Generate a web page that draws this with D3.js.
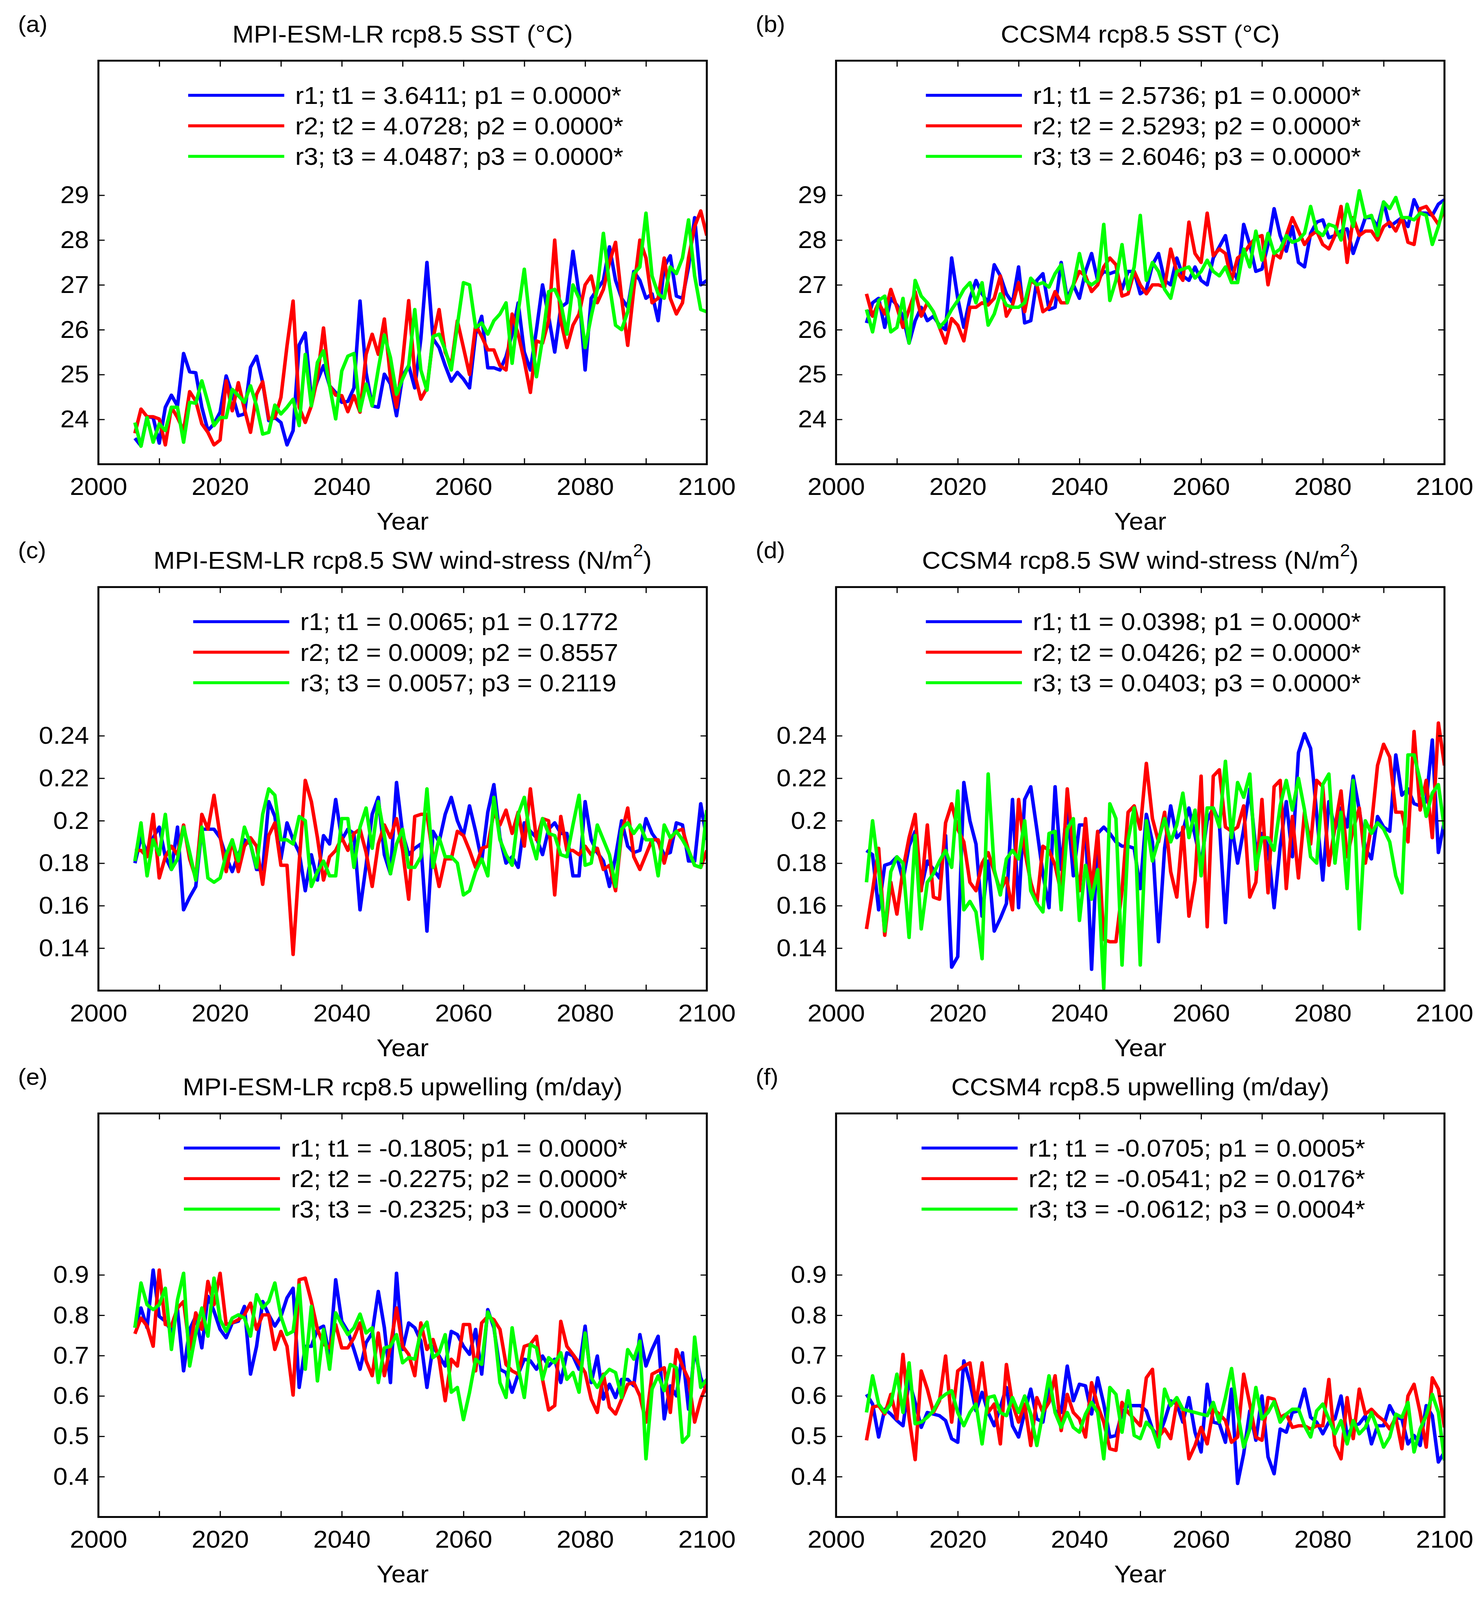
<!DOCTYPE html>
<html>
<head>
<meta charset="utf-8">
<script src="https://cdn.jsdelivr.net/npm/d3@7"></script>
<style>
  html, body { margin: 0; padding: 0; width: 100%; height: 100%; overflow: hidden; background: #fff; }
  svg { display: block; width: 100vw; height: 100vh; font-family: "Liberation Sans", Arial, Helvetica, sans-serif; }
</style>
</head>
<body>
<svg id="chart" viewBox="0 0 3790 4298" preserveAspectRatio="none"></svg>
<script>
// ---- time axes (annual values) ----
const mpiStart = 2006;
const ccsmStart = 2005;
const lastYear = 2100;
const xTickValues = [2000, 2010, 2020, 2030, 2040, 2050, 2060, 2070, 2080, 2090, 2100];
const xTickLabels = [2000, 2020, 2040, 2060, 2080, 2100];

// ---- y ticks ----
const sstTicks = [24, 25, 26, 27, 28, 29];
const tauTicks = [0.14, 0.16, 0.18, 0.2, 0.22, 0.24];
const upwTicks = [0.4, 0.5, 0.6, 0.7, 0.8, 0.9];

// ---- (a) MPI-ESM-LR SST, 2006-2100 ----
const mpiSstR1 = [
  23.58, 23.41, 24.06, 24.04, 23.47, 24.27, 24.54, 24.30, 25.47, 25.06,
  25.04, 24.27, 23.75, 23.90, 24.16, 24.97, 24.56, 24.08, 24.12, 25.16,
  25.41, 24.82, 23.97, 24.04, 23.93, 23.43, 23.75, 25.66, 25.93, 24.45,
  24.86, 25.20, 24.75, 24.60, 24.38, 24.40, 24.70, 26.64, 25.04, 24.30,
  24.27, 25.01, 24.79, 24.08, 24.97, 25.2, 24.7, 25.8, 27.5, 25.8,
  25.6, 25.2, 24.85, 25.05, 24.9, 24.7, 25.9, 26.3, 25.15, 25.15,
  25.1, 25.4, 25.9, 26.6, 25.5, 25.1, 26.0, 27.0, 26.3, 25.5,
  26.5, 26.6, 27.75, 26.8, 25.1, 26.7, 26.9, 27.1, 27.85, 27.1,
  26.7, 26.5, 27.3, 27.1, 26.7, 26.8, 26.2, 27.4, 27.65, 26.75,
  26.7, 27.4, 28.5, 27.0, 27.1
];
const mpiSstR2 = [
  23.69, 24.23, 24.06, 24.06, 24.01, 23.43, 24.27, 24.04, 23.75, 24.62,
  24.41, 23.90, 23.71, 23.43, 23.54, 24.86, 24.19, 24.82, 24.23, 23.71,
  24.56, 24.84, 24.01, 24.04, 24.49, 25.64, 26.64, 24.27, 23.93, 24.30,
  24.93, 26.04, 24.75, 24.54, 24.53, 24.17, 24.53, 24.16, 25.45, 25.90,
  25.45, 26.24, 24.93, 24.27, 25.3, 26.65, 25.0, 24.45, 24.7, 25.8,
  26.45, 25.5, 25.2, 26.2, 25.6, 25.0, 26.1, 25.85, 25.55, 25.55,
  25.2, 25.1, 26.35, 25.9, 25.3, 24.6, 25.75, 25.7, 26.2, 28.0,
  26.2, 25.6, 26.1, 26.35, 27.0, 27.2, 26.6, 26.9, 27.5, 27.95,
  26.7, 25.65, 26.9, 28.0, 27.6, 26.6, 26.7, 27.6, 26.7, 26.35,
  26.6, 27.6, 28.3, 28.65, 28.1
];
const mpiSstR3 = [
  23.93, 23.40, 24.04, 23.49, 23.90, 23.75, 24.27, 24.27, 23.49, 24.38,
  24.36, 24.86, 24.38, 23.86, 24.04, 24.04, 24.67, 24.53, 24.38, 24.75,
  24.30, 23.67, 23.71, 24.32, 24.12, 24.27, 24.45, 23.86, 25.45, 24.30,
  25.27, 25.53, 24.75, 24.01, 25.08, 25.41, 25.47, 24.19, 24.79, 24.30,
  25.12, 25.88, 25.38, 24.56, 24.9, 25.2, 26.45, 25.1, 24.65, 25.85,
  25.9, 25.55, 25.1, 26.1, 27.05, 27.0, 26.05, 26.15, 25.9, 26.2,
  26.35, 26.6, 25.25, 26.4, 27.35, 26.1, 24.95, 25.8, 26.85, 26.9,
  26.6, 25.9, 27.0, 26.7, 25.6, 26.3, 26.9, 28.15, 27.0, 26.1,
  26.0, 26.4, 27.25, 27.4, 28.6, 27.2, 26.8, 26.7, 27.4, 27.25,
  27.6, 28.45, 27.2, 26.45, 26.4
];

// ---- (b) CCSM4 SST, 2005-2100 ----
const ccsmSstR1 = [
  26.15,
  26.6, 26.7, 26.05, 26.7, 26.55, 26.3, 25.7, 26.2, 26.5, 26.2,
  26.3, 26.1, 26.0, 27.6, 26.7, 26.05, 26.7, 27.1, 26.8, 26.6,
  27.45, 27.2, 26.8, 26.6, 27.4, 26.15, 26.2, 27.1, 27.25, 26.45,
  26.5, 27.5, 26.7, 27.0, 26.7, 27.3, 27.7, 27.1, 27.3, 27.25,
  27.3, 26.9, 27.3, 27.3, 26.8, 26.9, 27.45, 27.7, 27.1, 27.0,
  27.6, 27.2, 27.1, 27.4, 27.1, 27.0, 27.6, 27.85, 28.1, 27.4,
  27.1, 28.35, 27.9, 27.3, 27.35, 27.9, 28.7, 28.1, 27.75, 28.3,
  27.5, 27.4, 28.15, 28.4, 28.45, 28.05, 28.1, 28.2, 28.25, 27.7,
  28.1, 28.5, 28.5, 28.3, 28.85, 28.3, 28.4, 28.5, 28.3, 28.9,
  28.6, 28.6, 28.55, 28.8, 28.9
];
const ccsmSstR2 = [
  26.8,
  26.3, 26.6, 26.35, 26.9, 26.5, 26.05, 26.45, 26.85, 26.3, 26.6,
  26.4, 26.05, 25.7, 26.25, 26.1, 25.75, 26.5, 26.5, 26.6, 26.55,
  26.7, 27.2, 26.3, 26.55, 27.05, 26.4, 27.1, 27.0, 26.4, 26.5,
  26.85, 26.6, 26.6, 27.0, 27.3, 27.2, 26.85, 27.0, 27.4, 27.6,
  27.45, 26.75, 26.8, 27.3, 27.0, 26.8, 27.0, 27.0, 26.95, 27.8,
  27.3, 27.1, 28.4, 27.7, 27.5, 28.6, 27.65, 27.8, 27.7, 27.1,
  27.6, 27.7, 27.9, 28.05, 28.1, 27.0, 27.7, 27.6, 28.1, 28.5,
  28.2, 27.9, 28.1, 28.2, 27.9, 27.8, 28.1, 28.75, 27.5, 28.5,
  28.1, 28.2, 28.2, 28.0, 28.3, 28.4, 28.2, 28.5, 27.95, 27.9,
  28.7, 28.75, 28.55, 28.35, 28.7
];
const ccsmSstR3 = [
  26.45,
  25.95, 26.65, 26.75, 25.95, 26.05, 26.7, 25.7, 27.1, 26.75, 26.6,
  26.4, 26.05, 26.2, 26.45, 26.65, 26.9, 27.05, 26.6, 27.05, 26.1,
  26.35, 26.8, 26.55, 26.5, 26.5, 26.6, 27.15, 27.0, 27.05, 26.95,
  27.25, 27.45, 26.6, 27.0, 27.7, 27.1, 27.0, 27.1, 28.35, 26.65,
  27.1, 27.9, 26.9, 27.4, 28.55, 27.1, 27.5, 27.3, 26.9, 26.7,
  27.3, 27.35, 27.4, 27.15, 27.3, 27.55, 27.3, 27.2, 27.4, 27.05,
  27.05, 27.8, 27.4, 28.2, 27.55, 28.15, 27.7, 27.8, 28.1, 27.95,
  28.0, 28.15, 28.75, 28.2, 28.1, 28.35, 28.3, 28.0, 28.8, 28.3,
  29.1, 28.5, 28.55, 28.1, 28.85, 28.7, 28.95, 28.5, 28.5, 28.45,
  28.6, 28.55, 27.9, 28.3, 28.85
];

// ---- (c) MPI-ESM-LR SW wind stress, 2006-2100 ----
const mpiTauR1 = [
  0.180, 0.192, 0.185, 0.192, 0.197, 0.183, 0.177, 0.197, 0.158, 0.164,
  0.169, 0.196, 0.196, 0.196, 0.192, 0.183, 0.176, 0.184, 0.191, 0.189,
  0.177, 0.177, 0.209, 0.202, 0.182, 0.199, 0.191, 0.185, 0.167, 0.184,
  0.172, 0.193, 0.189, 0.210, 0.191, 0.196, 0.194, 0.158, 0.179, 0.203,
  0.211, 0.184, 0.175, 0.218, 0.194, 0.184, 0.187, 0.189, 0.148, 0.195,
  0.190, 0.203, 0.211, 0.200, 0.193, 0.207, 0.195, 0.181, 0.204, 0.217,
  0.192, 0.180, 0.183, 0.178, 0.199, 0.195, 0.192, 0.184, 0.196, 0.199,
  0.194, 0.194, 0.174, 0.174, 0.209, 0.191, 0.185, 0.181, 0.169, 0.183,
  0.200, 0.188, 0.185, 0.186, 0.201, 0.194, 0.190, 0.184, 0.185, 0.199,
  0.198, 0.181, 0.181, 0.208, 0.191
];
const mpiTauR2 = [
  0.186, 0.186, 0.183, 0.203, 0.173, 0.183, 0.188, 0.184, 0.198, 0.182,
  0.173, 0.203, 0.196, 0.212, 0.193, 0.176, 0.191, 0.176, 0.188, 0.192,
  0.188, 0.170, 0.193, 0.199, 0.179, 0.179, 0.137, 0.180, 0.219, 0.209,
  0.192, 0.172, 0.183, 0.186, 0.192, 0.186, 0.194, 0.196, 0.185, 0.169,
  0.189, 0.198, 0.192, 0.201, 0.186, 0.163, 0.202, 0.203, 0.203, 0.183,
  0.169, 0.182, 0.182, 0.195, 0.193, 0.186, 0.178, 0.187, 0.188, 0.204,
  0.198, 0.205, 0.194, 0.204, 0.188, 0.215, 0.191, 0.201, 0.200, 0.165,
  0.202, 0.186, 0.186, 0.184, 0.188, 0.184, 0.187, 0.177, 0.179, 0.167,
  0.194, 0.206, 0.183, 0.177, 0.184, 0.191, 0.191, 0.180, 0.191, 0.195,
  0.196, 0.186, 0.179, 0.178, 0.186
];
const mpiTauR3 = [
  0.181, 0.199, 0.174, 0.191, 0.184, 0.203, 0.177, 0.182, 0.197, 0.185,
  0.172, 0.197, 0.173, 0.171, 0.173, 0.184, 0.191, 0.181, 0.197, 0.189,
  0.178, 0.203, 0.215, 0.212, 0.191, 0.191, 0.189, 0.202, 0.200, 0.169,
  0.176, 0.181, 0.174, 0.174, 0.201, 0.201, 0.178, 0.197, 0.206, 0.187,
  0.209, 0.193, 0.175, 0.189, 0.196, 0.178, 0.178, 0.183, 0.215, 0.178,
  0.192, 0.183, 0.183, 0.180, 0.165, 0.167, 0.176, 0.182, 0.174, 0.211,
  0.191, 0.184, 0.179, 0.203, 0.211, 0.192, 0.182, 0.201, 0.194, 0.193,
  0.184, 0.183, 0.198, 0.212, 0.179, 0.180, 0.198, 0.191, 0.184, 0.169,
  0.196, 0.199, 0.194, 0.198, 0.191, 0.191, 0.174, 0.198, 0.192, 0.195,
  0.191, 0.186, 0.179, 0.178, 0.205
];

// ---- (d) CCSM4 SW wind stress, 2005-2100 ----
const ccsmTauR1 = [
  0.186,
  0.184, 0.158, 0.179, 0.180, 0.183, 0.172, 0.188, 0.195, 0.168, 0.181,
  0.177, 0.173, 0.193, 0.131, 0.136, 0.218, 0.200, 0.189, 0.155, 0.181,
  0.148, 0.154, 0.161, 0.210, 0.159, 0.210, 0.216, 0.196, 0.175, 0.159,
  0.216, 0.177, 0.208, 0.174, 0.198, 0.198, 0.130, 0.194, 0.197, 0.194,
  0.190, 0.188, 0.188, 0.187, 0.168, 0.203, 0.190, 0.143, 0.187, 0.207,
  0.192, 0.195, 0.206, 0.193, 0.180, 0.200, 0.206, 0.199, 0.152, 0.198,
  0.180, 0.196, 0.215, 0.186, 0.194, 0.188, 0.159, 0.188, 0.209, 0.183,
  0.232, 0.241, 0.234, 0.203, 0.172, 0.209, 0.196, 0.206, 0.197, 0.221,
  0.205, 0.187, 0.182, 0.202, 0.197, 0.195, 0.231, 0.212, 0.215, 0.208,
  0.207, 0.209, 0.238, 0.185, 0.200
];
const ccsmTauR2 = [
  0.149,
  0.167, 0.187, 0.146, 0.171, 0.156, 0.177, 0.192, 0.203, 0.167, 0.198,
  0.164, 0.163, 0.199, 0.208, 0.196, 0.190, 0.171, 0.167, 0.180, 0.185,
  0.176, 0.167, 0.173, 0.158, 0.210, 0.186, 0.171, 0.161, 0.188, 0.186,
  0.179, 0.166, 0.215, 0.186, 0.167, 0.201, 0.167, 0.195, 0.144, 0.143,
  0.143, 0.167, 0.204, 0.207, 0.196, 0.227, 0.201, 0.190, 0.204, 0.176,
  0.164, 0.197, 0.155, 0.172, 0.221, 0.150, 0.221, 0.224, 0.197, 0.195,
  0.197, 0.207, 0.164, 0.171, 0.210, 0.166, 0.216, 0.219, 0.168, 0.202,
  0.173, 0.204, 0.189, 0.219, 0.216, 0.179, 0.197, 0.214, 0.183, 0.196,
  0.206, 0.180, 0.198, 0.226, 0.236, 0.230, 0.204, 0.204, 0.190, 0.242,
  0.205, 0.219, 0.192, 0.246, 0.226
];
const ccsmTauR3 = [
  0.171,
  0.200, 0.177, 0.148, 0.176, 0.183, 0.180, 0.145, 0.193, 0.149, 0.171,
  0.175, 0.181, 0.186, 0.178, 0.214, 0.158, 0.162, 0.157, 0.135, 0.222,
  0.177, 0.165, 0.182, 0.186, 0.182, 0.200, 0.167, 0.161, 0.157, 0.194,
  0.195, 0.158, 0.196, 0.201, 0.153, 0.179, 0.163, 0.177, 0.121, 0.208,
  0.201, 0.132, 0.191, 0.206, 0.132, 0.200, 0.181, 0.191, 0.201, 0.190,
  0.198, 0.213, 0.192, 0.205, 0.174, 0.206, 0.206, 0.197, 0.228, 0.192,
  0.218, 0.211, 0.222, 0.177, 0.192, 0.192, 0.186, 0.207, 0.219, 0.205,
  0.220, 0.205, 0.183, 0.180, 0.217, 0.222, 0.180, 0.204, 0.168, 0.219,
  0.149, 0.200, 0.194, 0.199, 0.196, 0.190, 0.174, 0.166, 0.231, 0.231,
  0.219, 0.202, 0.213, 0.217, 0.196
];

// ---- (e) MPI-ESM-LR upwelling, 2006-2100 ----
const mpiUpwR1 = [
  0.769, 0.818, 0.769, 0.912, 0.797, 0.785, 0.760, 0.814, 0.662, 0.765,
  0.797, 0.719, 0.847, 0.810, 0.765, 0.744, 0.781, 0.785, 0.822, 0.654,
  0.723, 0.834, 0.801, 0.773, 0.797, 0.843, 0.867, 0.621, 0.723, 0.723,
  0.765, 0.773, 0.699, 0.888, 0.785, 0.760, 0.715, 0.666, 0.732, 0.756,
  0.859, 0.769, 0.633, 0.904, 0.715, 0.781, 0.769, 0.736, 0.621, 0.723,
  0.699, 0.674, 0.760, 0.752, 0.723, 0.703, 0.765, 0.654, 0.814, 0.769,
  0.666, 0.658, 0.609, 0.654, 0.691, 0.687, 0.666, 0.699, 0.674, 0.691,
  0.633, 0.707, 0.699, 0.666, 0.773, 0.633, 0.699, 0.592, 0.629, 0.596,
  0.641, 0.641, 0.625, 0.752, 0.674, 0.715, 0.748, 0.543, 0.625, 0.600,
  0.707, 0.567, 0.715, 0.645, 0.609
];
const mpiUpwR2 = [
  0.754, 0.793, 0.773, 0.723, 0.912, 0.777, 0.773, 0.818, 0.834, 0.715,
  0.806, 0.765, 0.884, 0.826, 0.904, 0.777, 0.781, 0.789, 0.801, 0.830,
  0.765, 0.801, 0.801, 0.715, 0.760, 0.723, 0.602, 0.888, 0.892, 0.834,
  0.765, 0.728, 0.719, 0.777, 0.719, 0.719, 0.744, 0.781, 0.687, 0.650,
  0.756, 0.650, 0.723, 0.818, 0.723, 0.703, 0.650, 0.781, 0.715, 0.740,
  0.691, 0.588, 0.691, 0.674, 0.777, 0.777, 0.662, 0.781, 0.797, 0.789,
  0.765, 0.678, 0.662, 0.654, 0.723, 0.728, 0.748, 0.641, 0.565, 0.576,
  0.785, 0.723, 0.703, 0.682, 0.658, 0.592, 0.559, 0.654, 0.572, 0.555,
  0.592, 0.629, 0.633, 0.600, 0.535, 0.654, 0.662, 0.670, 0.559, 0.715,
  0.674, 0.641, 0.535, 0.592, 0.629
];
const mpiUpwR3 = [
  0.769, 0.880, 0.826, 0.814, 0.826, 0.867, 0.715, 0.838, 0.904, 0.674,
  0.756, 0.818, 0.748, 0.892, 0.789, 0.760, 0.793, 0.801, 0.793, 0.748,
  0.851, 0.818, 0.834, 0.880, 0.797, 0.752, 0.760, 0.875, 0.666, 0.822,
  0.637, 0.765, 0.666, 0.806, 0.777, 0.752, 0.769, 0.803, 0.756, 0.769,
  0.633, 0.719, 0.723, 0.752, 0.682, 0.695, 0.691, 0.760, 0.783, 0.695,
  0.707, 0.752, 0.609, 0.621, 0.541, 0.609, 0.691, 0.678, 0.808, 0.777,
  0.633, 0.596, 0.769, 0.670, 0.596, 0.728, 0.719, 0.641, 0.695, 0.682,
  0.707, 0.641, 0.658, 0.609, 0.756, 0.645, 0.621, 0.650, 0.666, 0.658,
  0.596, 0.715, 0.691, 0.736, 0.444, 0.617, 0.650, 0.613, 0.678, 0.670,
  0.485, 0.502, 0.746, 0.621, 0.641
];

// ---- (f) CCSM4 upwelling, 2005-2100 ----
const ccsmUpwR1 = [
  0.604,
  0.580, 0.498, 0.567, 0.555, 0.539, 0.526, 0.637, 0.584, 0.522, 0.559,
  0.555, 0.551, 0.539, 0.494, 0.485, 0.687, 0.633, 0.563, 0.609, 0.559,
  0.526, 0.572, 0.621, 0.526, 0.498, 0.559, 0.617, 0.543, 0.535, 0.629,
  0.563, 0.559, 0.674, 0.588, 0.629, 0.625, 0.555, 0.645, 0.580, 0.498,
  0.502, 0.559, 0.576, 0.576, 0.576, 0.563, 0.518, 0.498, 0.539, 0.588,
  0.580, 0.535, 0.596, 0.510, 0.461, 0.629, 0.535, 0.531, 0.485, 0.617,
  0.383, 0.457, 0.563, 0.490, 0.600, 0.449, 0.407, 0.518, 0.510, 0.559,
  0.563, 0.617, 0.547, 0.535, 0.506, 0.535, 0.543, 0.600, 0.502, 0.526,
  0.531, 0.551, 0.481, 0.526, 0.526, 0.576, 0.547, 0.543, 0.481, 0.502,
  0.477, 0.576, 0.551, 0.436, 0.461
];
const ccsmUpwR2 = [
  0.490,
  0.572, 0.576, 0.555, 0.604, 0.543, 0.703, 0.547, 0.442, 0.662, 0.617,
  0.559, 0.588, 0.699, 0.535, 0.662, 0.674, 0.682, 0.580, 0.682, 0.559,
  0.580, 0.481, 0.678, 0.580, 0.535, 0.580, 0.477, 0.596, 0.559, 0.584,
  0.650, 0.514, 0.604, 0.559, 0.543, 0.498, 0.633, 0.576, 0.535, 0.469,
  0.465, 0.584, 0.559, 0.543, 0.526, 0.645, 0.666, 0.498, 0.518, 0.494,
  0.584, 0.567, 0.444, 0.477, 0.522, 0.481, 0.567, 0.555, 0.539, 0.485,
  0.498, 0.654, 0.580, 0.498, 0.490, 0.596, 0.592, 0.547, 0.555, 0.522,
  0.526, 0.526, 0.518, 0.526, 0.526, 0.641, 0.477, 0.444, 0.596, 0.494,
  0.617, 0.555, 0.567, 0.551, 0.539, 0.518, 0.547, 0.469, 0.600, 0.629,
  0.559, 0.473, 0.645, 0.617, 0.522
];
const ccsmUpwR3 = [
  0.559,
  0.650, 0.580, 0.559, 0.580, 0.654, 0.559, 0.682, 0.531, 0.535, 0.547,
  0.563, 0.592, 0.604, 0.613, 0.559, 0.526, 0.559, 0.580, 0.481, 0.596,
  0.600, 0.559, 0.551, 0.596, 0.559, 0.600, 0.555, 0.477, 0.559, 0.650,
  0.559, 0.522, 0.559, 0.522, 0.510, 0.555, 0.584, 0.559, 0.444, 0.621,
  0.604, 0.510, 0.613, 0.502, 0.494, 0.535, 0.518, 0.473, 0.617, 0.576,
  0.596, 0.567, 0.563, 0.559, 0.555, 0.551, 0.584, 0.535, 0.596, 0.668,
  0.559, 0.473, 0.518, 0.621, 0.543, 0.559, 0.586, 0.535, 0.555, 0.567,
  0.567, 0.526, 0.498, 0.563, 0.580, 0.543, 0.506, 0.539, 0.481, 0.539,
  0.506, 0.522, 0.559, 0.518, 0.473, 0.498, 0.555, 0.547, 0.584, 0.461,
  0.518, 0.551, 0.604, 0.559, 0.440
];

// ---- legend texts ----
const legendA = ['r1; t1 = 3.6411; p1 = 0.0000*', 'r2; t2 = 4.0728; p2 = 0.0000*', 'r3; t3 = 4.0487; p3 = 0.0000*'];
const legendB = ['r1; t1 = 2.5736; p1 = 0.0000*', 'r2; t2 = 2.5293; p2 = 0.0000*', 'r3; t3 = 2.6046; p3 = 0.0000*'];
const legendC = ['r1; t1 = 0.0065; p1 = 0.1772', 'r2; t2 = 0.0009; p2 = 0.8557', 'r3; t3 = 0.0057; p3 = 0.2119'];
const legendD = ['r1; t1 = 0.0398; p1 = 0.0000*', 'r2; t2 = 0.0426; p2 = 0.0000*', 'r3; t3 = 0.0403; p3 = 0.0000*'];
const legendE = ['r1; t1 = -0.1805; p1 = 0.0000*', 'r2; t2 = -0.2275; p2 = 0.0000*', 'r3; t3 = -0.2325; p3 = 0.0000*'];
const legendF = ['r1; t1 = -0.0705; p1 = 0.0005*', 'r2; t2 = -0.0541; p2 = 0.0176*', 'r3; t3 = -0.0612; p3 = 0.0004*'];

// ---- layout (in the 3790 x 4298 figure frame) ----
const W = 3790, H = 4298;
const colX = [252, 2141];
const rowY = [163, 1577, 2991];
const plotW = 1558, plotH = 1084;
const fontSize = 66;
const tickLen = 16;
const colors = ['#0000ff', '#ff0000', '#00ff00'];

const mpiYears = d3.range(mpiStart, lastYear + 1);
const ccsmYears = d3.range(ccsmStart, lastYear + 1);

const panels = [
  { label: '(a)', title: ['MPI-ESM-LR rcp8.5 SST (°C)'], years: mpiYears,
    series: [mpiSstR1, mpiSstR2, mpiSstR3], legend: legendA,
    yDomain: [23, 32], yTicks: sstTicks, fmt: d3.format('d') },
  { label: '(b)', title: ['CCSM4 rcp8.5 SST (°C)'], years: ccsmYears,
    series: [ccsmSstR1, ccsmSstR2, ccsmSstR3], legend: legendB,
    yDomain: [23, 32], yTicks: sstTicks, fmt: d3.format('d') },
  { label: '(c)', title: ['MPI-ESM-LR rcp8.5 SW wind-stress (N/m', '2', ')'], years: mpiYears,
    series: [mpiTauR1, mpiTauR2, mpiTauR3], legend: legendC,
    yDomain: [0.12, 0.31], yTicks: tauTicks, fmt: d => String(+d.toFixed(2)) },
  { label: '(d)', title: ['CCSM4 rcp8.5 SW wind-stress (N/m', '2', ')'], years: ccsmYears,
    series: [ccsmTauR1, ccsmTauR2, ccsmTauR3], legend: legendD,
    yDomain: [0.12, 0.31], yTicks: tauTicks, fmt: d => String(+d.toFixed(2)) },
  { label: '(e)', title: ['MPI-ESM-LR rcp8.5 upwelling (m/day)'], years: mpiYears,
    series: [mpiUpwR1, mpiUpwR2, mpiUpwR3], legend: legendE,
    yDomain: [0.3, 1.3], yTicks: upwTicks, fmt: d => String(+d.toFixed(1)) },
  { label: '(f)', title: ['CCSM4 rcp8.5 upwelling (m/day)'], years: ccsmYears,
    series: [ccsmUpwR1, ccsmUpwR2, ccsmUpwR3], legend: legendF,
    yDomain: [0.3, 1.3], yTicks: upwTicks, fmt: d => String(+d.toFixed(1)) }
];

const svg = d3.select('#chart');
svg.append('rect').attr('width', W).attr('height', H).attr('fill', '#fff');
const defs = svg.append('defs');

// MATLAB-like axis: no domain line, thin inward ticks, big labels
const styleAxis = sel => {
  sel.select('.domain').remove();
  sel.attr('font-family', null).attr('font-size', null);
  sel.selectAll('.tick line').attr('stroke', '#000').attr('stroke-width', 3);
  sel.selectAll('.tick text').attr('fill', '#000').attr('font-size', fontSize);
};

panels.forEach((p, i) => {
  const x0 = colX[i % 2];
  const y0 = rowY[Math.floor(i / 2)];
  const g = svg.append('g').attr('transform', `translate(${x0},${y0})`);

  const x = d3.scaleLinear().domain([2000, 2100]).range([0, plotW]);
  const y = d3.scaleLinear().domain(p.yDomain).range([plotH, 0]);

  // panel label and title
  svg.append('text')
    .attr('x', x0 - 206).attr('y', y0 - 77)
    .attr('font-size', 62).text(p.label);

  const title = svg.append('text')
    .attr('x', x0 + plotW / 2).attr('y', y0 - 49)
    .attr('text-anchor', 'middle').attr('font-size', fontSize);
  title.append('tspan').text(p.title[0]);
  if (p.title.length > 1) {
    title.append('tspan').attr('font-size', 46).attr('dy', -34).text(p.title[1]);
    title.append('tspan').attr('dy', 34).text(p.title[2]);
  }

  // clip for the data
  const clipId = `clip-${i}`;
  defs.append('clipPath').attr('id', clipId)
    .append('rect').attr('width', plotW).attr('height', plotH);

  const line = d3.line()
    .x((d, j) => x(p.years[j]))
    .y(d => y(d));

  const lines = g.append('g').attr('clip-path', `url(#${clipId})`);
  p.series.forEach((s, k) => {
    lines.append('path')
      .datum(s)
      .attr('fill', 'none')
      .attr('stroke', colors[k])
      .attr('stroke-width', 9)
      .attr('stroke-linejoin', 'round')
      .attr('d', line);
  });

  // axes on all four sides, ticks pointing inward
  g.append('g').attr('transform', `translate(0,${plotH})`)
    .call(d3.axisBottom(x).tickValues(xTickValues).tickSize(-tickLen).tickPadding(36)
      .tickFormat(d => xTickLabels.includes(d) ? d : ''))
    .call(styleAxis);
  g.append('g')
    .call(d3.axisTop(x).tickValues(xTickValues).tickSize(-tickLen).tickFormat(''))
    .call(styleAxis);
  g.append('g')
    .call(d3.axisLeft(y).tickValues(p.yTicks).tickSize(-tickLen).tickPadding(24).tickFormat(p.fmt))
    .call(styleAxis);
  g.append('g').attr('transform', `translate(${plotW},0)`)
    .call(d3.axisRight(y).tickValues(p.yTicks).tickSize(-tickLen).tickFormat(''))
    .call(styleAxis);

  g.append('rect')
    .attr('width', plotW).attr('height', plotH)
    .attr('fill', 'none').attr('stroke', '#000').attr('stroke-width', 5);

  g.append('text')
    .attr('x', plotW / 2).attr('y', plotH + 176)
    .attr('text-anchor', 'middle').attr('font-size', fontSize)
    .text('Year');

  // legend, centred in the axes without a box
  const lineLen = 246, gap = 28, rowGap = 82, firstRow = 93;
  const leg = g.append('g');
  const texts = p.legend.map((t, k) => leg.append('text')
    .attr('y', firstRow + k * rowGap + 23)
    .attr('font-size', fontSize)
    .text(t));
  const maxW = d3.max(texts, t => t.node().getComputedTextLength());
  const startX = plotW / 2 - (lineLen + gap + maxW) / 2 + 8;
  texts.forEach(t => t.attr('x', startX + lineLen + gap));
  p.legend.forEach((t, k) => {
    leg.append('line')
      .attr('x1', startX).attr('x2', startX + lineLen)
      .attr('y1', firstRow + k * rowGap).attr('y2', firstRow + k * rowGap)
      .attr('stroke', colors[k]).attr('stroke-width', 8);
  });
});
</script>
</body>
</html>
